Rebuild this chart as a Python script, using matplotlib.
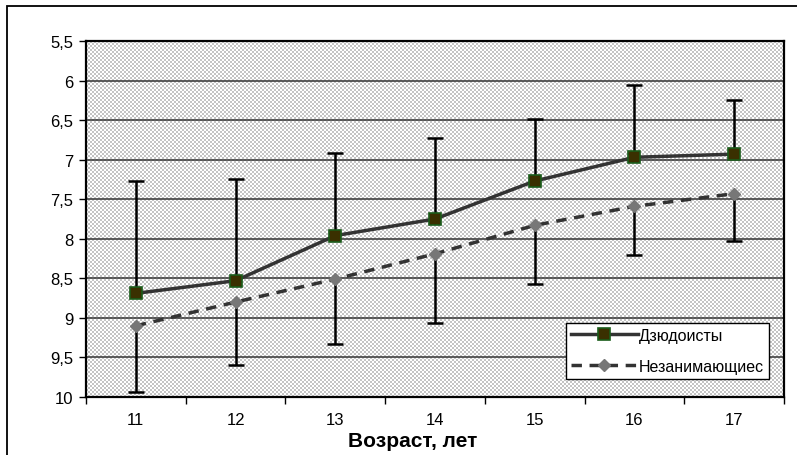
import numpy as np
from matplotlib import pyplot as plt
from matplotlib.patches import Rectangle
from matplotlib.colors import ListedColormap

plt.rcParams['font.family'] = ['Liberation Sans', 'DejaVu Sans']

ages = [11, 12, 13, 14, 15, 16, 17]
judo = [8.69, 8.53, 7.96, 7.75, 7.27, 6.97, 6.93]
judo_top = [7.27, 7.25, 6.92, 6.73, 6.49, 6.06, 6.24]
other = [9.10, 8.80, 8.51, 8.19, 7.83, 7.59, 7.43]
other_bottom = [9.94, 9.60, 9.33, 9.07, 8.57, 8.21, 8.03]
y_ticks = [5.5, 6, 6.5, 7, 7.5, 8, 8.5, 9, 9.5, 10]
y_labels = ['5,5', '6', '6,5', '7', '7,5', '8', '8,5', '9', '9,5', '10']

W, H = 797, 456
fig = plt.figure(figsize=(W / 100, H / 100), dpi=100)

# outer frame of the chart area
fig.patches.append(Rectangle((7 / W, -0.1), 1.1, 1 - 7 / H + 0.1, transform=fig.transFigure,
                             fill=False, edgecolor='black', linewidth=1.3))

ax = fig.add_axes([86 / W, 58 / H, 698 / W, 356 / H])

# checkered plot background
ny, nx = 178, 349
cb = np.indices((ny, nx)).sum(axis=0) % 2
ax.imshow(cb, cmap=ListedColormap(['#c4c4c4', '#ffffff']), extent=[0, 1, 0, 1],
          transform=ax.transAxes, interpolation='nearest', aspect='auto', zorder=0)

ax.set_xlim(10.5, 17.5)
ax.set_ylim(10, 5.5)
for yv in y_ticks:
    ax.axhline(yv, color='#333333', linewidth=1.1, zorder=1)

# error bars
ax.vlines(ages, judo_top, judo, color='black', linewidth=1.8, zorder=2)
ax.plot(ages, judo_top, linestyle='none', marker='_', markersize=11, markeredgewidth=1.8,
        color='black', zorder=2)
ax.vlines(ages, other, other_bottom, color='black', linewidth=1.8, zorder=2)
ax.plot(ages, other_bottom, linestyle='none', marker='_', markersize=11, markeredgewidth=1.8,
        color='black', zorder=2)

ax.plot(ages, judo, color='#333333', linewidth=2.5, marker='s', markersize=9,
        markerfacecolor='#3a3000', markeredgecolor='#1a5c1a', markeredgewidth=1.2,
        label='Дзюдоисты', zorder=4)
ax.plot(ages, other, color='#333333', linewidth=2.5, dashes=(3, 2.2), marker='D', markersize=6,
        markerfacecolor='#777777', markeredgecolor='#777777',
        label='Незанимающиес', zorder=3)

ax.set_yticks(y_ticks)
ax.set_yticklabels(y_labels)
ax.set_xticks(np.arange(10.5, 18, 1))
ax.set_xticklabels([])
ax.set_xticks(ages, minor=True)
ax.set_xticklabels([str(a) for a in ages], minor=True)
ax.tick_params(axis='x', which='major', direction='out', length=5, width=1, color='black')
ax.tick_params(axis='x', which='minor', length=0, pad=11, labelsize=12)
ax.tick_params(axis='y', direction='out', length=5, width=1, labelsize=12, pad=4)
for s in ax.spines.values():
    s.set_linewidth(1.6)
    s.set_color('black')

leg = ax.legend(loc='upper left', bbox_to_anchor=((566 - 86) / 698, (398 - 324) / 356),
                fontsize=11.5, frameon=True, fancybox=False, handlelength=4.2,
                handletextpad=0.05, labelspacing=1.0, borderpad=0.3, borderaxespad=0)
leg.get_frame().set_edgecolor('black')
leg.get_frame().set_linewidth(1)
leg.get_frame().set_facecolor('white')
leg.get_frame().set_alpha(1)

fig.text(413 / W, 1 - 447 / H, 'Возраст, лет', ha='center', va='baseline',
         fontsize=15, fontweight='bold')

fig.savefig('out.png', dpi=100)
